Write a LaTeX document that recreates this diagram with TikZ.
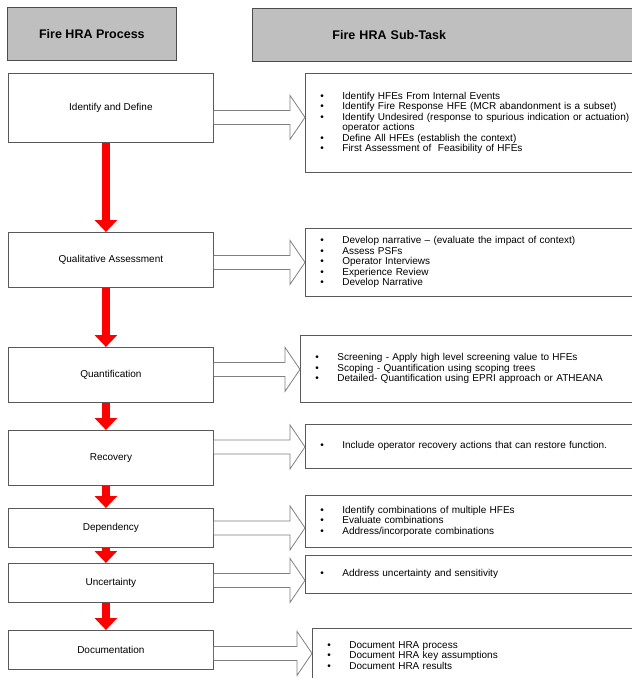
\documentclass[tikz,border=0pt]{standalone}
\usepackage{fontspec}
\setmainfont{Liberation Sans}
\usetikzlibrary{arrows.meta,calc}
\newcommand{\itm}{\makebox[22pt][l]{\textbullet}}

\begin{document}
\begin{tikzpicture}[x=1pt,y=-1pt,
  head/.style={draw=black!70,fill=black!25,line width=0.8pt,anchor=north west,
    minimum height=53pt,font=\bfseries\fontsize{12.5}{15}\selectfont},
  stage/.style={draw=black!65,line width=0.8pt,anchor=north west,
    minimum width=205pt,font=\fontsize{10}{12}\selectfont},
  task/.style={draw=black!65,line width=0.8pt,anchor=north west,align=left,
    text width=320pt,inner xsep=15pt,font=\fontsize{10}{10.5}\selectfont},
  flow/.style={draw=red,line width=8pt,-{Triangle[width=22pt,length=12pt]}},
  hollow/.style={draw=black!50,fill=white,line width=0.8pt}]
  \useasboundingbox (0,0) rectangle (632,678);
  \clip (0,0) rectangle (632,678);

  \node[head,minimum width=169pt] (hp) at (7,7) {Fire HRA Process};
  \node[head,align=left,text width=230pt,inner xsep=80pt] (ht) at (252,8) {Fire HRA Sub-Task};

  % process column
  \node[stage,minimum height=69pt] (ident) at (8,73) {Identify and Define};
  \node[stage,minimum height=55pt] (qual) at (8,232) {Qualitative Assessment};
  \node[stage,minimum height=55pt] (quant) at (8,347) {Quantification};
  \node[stage,minimum height=55pt] (recov) at (8,430) {Recovery};
  \node[stage,minimum height=39pt] (dep) at (8,508) {Dependency};
  \node[stage,minimum height=39pt] (unc) at (8,563) {Uncertainty};
  \node[stage,minimum height=39pt] (doc) at (8,630) {Documentation};

  % sub-task column
  \node[task,minimum height=99pt] (t-ident) at (305,73) {%
    \itm Identify HFEs From Internal Events\\
    \itm Identify Fire Response HFE (MCR abandonment is a subset)\\
    \itm Identify Undesired (response to spurious indication or actuation)\\
    \hspace*{22pt}operator actions\\
    \itm Define All HFEs (establish the context)\\
    \itm First Assessment of \ Feasibility of HFEs};
  \node[task,minimum height=68pt] (t-qual) at (305,228) {%
    \itm Develop narrative -- (evaluate the impact of context)\\
    \itm Assess PSFs\\
    \itm Operator Interviews\\
    \itm Experience Review\\
    \itm Develop Narrative};
  \node[task,minimum height=67pt] (t-quant) at (300,335) {%
    \itm Screening - Apply high level screening value to HFEs\\
    \itm Scoping - Quantification using scoping trees\\
    \itm Detailed- Quantification using EPRI approach or ATHEANA};
  \node[task,minimum height=44pt] (t-recov) at (305,424) {%
    \itm Include operator recovery actions that can restore function.};
  \node[task,minimum height=52pt] (t-dep) at (305,495) {%
    \itm Identify combinations of multiple HFEs\\
    \itm Evaluate combinations\\
    \itm Address/incorporate combinations};
  \node[task,minimum height=38pt] (t-unc) at (305,555) {%
    \itm Address uncertainty and sensitivity};
  \node[task,minimum height=54pt] (t-doc) at (312,628) {%
    \itm Document HRA process\\
    \itm Document HRA key assumptions\\
    \itm Document HRA results};

  \foreach \a/\b in {ident/qual,qual/quant,quant/recov,recov/dep,dep/unc,unc/doc}
    \draw[flow] ([xshift=-5pt]\a.south) -- ([xshift=-5pt]\b.north);

  \foreach \a/\dy in {ident/9.5,qual/2.5,quant/-5.5,recov/-11,dep/0,unc/-2.5,doc/3.5}
    \draw[hollow] ($(\a.east)+(0,\dy-7)$) -- ($(t-\a.west|-\a.east)+(-15,\dy-7)$)
      -- ++(0,-15) -- ($(t-\a.west|-\a.east)+(0,\dy)$)
      -- ($(t-\a.west|-\a.east)+(-15,\dy+22)$) -- ++(0,-15)
      -- ($(\a.east)+(0,\dy+7)$);
\end{tikzpicture}
\end{document}
